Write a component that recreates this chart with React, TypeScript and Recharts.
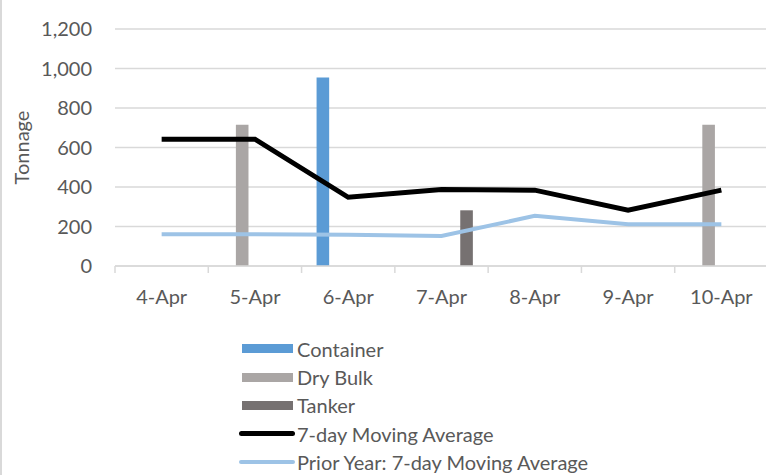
import React from "react";
import {
  ComposedChart,
  Bar,
  Line,
  XAxis,
  YAxis,
  CartesianGrid,
  Legend,
} from "recharts";

const days = ["4-Apr", "5-Apr", "6-Apr", "7-Apr", "8-Apr", "9-Apr", "10-Apr"];
const container = [null, null, 955, null, null, null, null];
const dryBulk = [null, 715, null, null, null, null, 715];
const tanker = [null, null, null, 282, null, null, null];
const movingAvg = [642, 642, 348, 387, 384, 282, 384];
const priorYearAvg = [161, 161, 158, 152, 254, 211, 211];
// two unused bar slots (no data, not in legend) that sit between Dry Bulk and Tanker
const emptySlot = [null, null, null, null, null, null, null];
const yTicks = [0, 200, 400, 600, 800, 1000, 1200];
const legendOrder = [
  "Container",
  "Dry Bulk",
  "Tanker",
  "7-day Moving Average",
  "Prior Year: 7-day Moving Average",
];

const data = days.map((day, i) => ({
  day,
  container: container[i],
  dryBulk: dryBulk[i],
  slotA: emptySlot[i],
  slotB: emptySlot[i],
  tanker: tanker[i],
  avg: movingAvg[i],
  prior: priorYearAvg[i],
}));

const TEXT = "#595959";
const GRID = "#d9d9d9";

function DayTick(props: any) {
  const { x, y, payload, index, visibleTicksCount } = props;
  const half = payload && payload.offset ? payload.offset : 46.6;
  const axisY = y - 8;
  const isLast = index === visibleTicksCount - 1;
  return (
    <g>
      <line x1={x - half} x2={x - half} y1={axisY} y2={axisY + 7} stroke={GRID} strokeWidth={1.5} />
      {isLast && (
        <line x1={x + half} x2={x + half} y1={axisY} y2={axisY + 7} stroke={GRID} strokeWidth={1.5} />
      )}
      <text x={x} y={axisY + 38} textAnchor="middle" fill={TEXT} fontSize={20}>
        {payload.value}
      </text>
    </g>
  );
}

function LegendList(props: any) {
  const items = (props.payload || [])
    .filter((item: any) => legendOrder.includes(item.value))
    .sort((a: any, b: any) => legendOrder.indexOf(a.value) - legendOrder.indexOf(b.value));
  return (
    <div>
      {items.map((item: any) => (
        <div
          key={item.value}
          style={{ display: "flex", alignItems: "center", height: 28.4 }}
        >
          {item.type === "line" ? (
            <div
              style={{
                width: 56,
                height: item.value.startsWith("Prior") ? 4 : 5,
                borderRadius: 3,
                background: item.color,
              }}
            />
          ) : (
            <div style={{ width: 51, height: 9, marginLeft: 3, marginRight: 2, background: item.color }} />
          )}
          <span style={{ marginLeft: 2, color: TEXT, fontSize: 20, whiteSpace: "nowrap" }}>
            {item.value}
          </span>
        </div>
      ))}
    </div>
  );
}

export default function App() {
  return (
    <div
      style={{
        position: "absolute",
        left: 0,
        top: 0,
        width: 766,
        height: 475,
        overflow: "hidden",
        background: "#fff",
        boxShadow: `inset 2px 0 0 ${GRID}`,
        fontFamily: "Lato, sans-serif",
      }}
    >
      <ComposedChart
        width={770}
        height={475}
        data={data}
        margin={{ top: 29, right: 2, left: 0, bottom: 179 }}
        barGap={0}
        barSize={12.6}
      >
        <CartesianGrid vertical={false} stroke={GRID} strokeWidth={1.5} />
        <XAxis
          dataKey="day"
          height={30}
          axisLine={{ stroke: GRID, strokeWidth: 1.5 }}
          tickLine={false}
          tick={<DayTick />}
          interval={0}
        />
        <YAxis
          width={115}
          domain={[0, 1200]}
          ticks={yTicks}
          axisLine={false}
          tickLine={false}
          tickMargin={17}
          tick={{ fill: TEXT, fontSize: 20 }}
          tickFormatter={(v: number) => v.toLocaleString("en-US")}
          label={{
            value: "Tonnage",
            angle: -90,
            position: "center",
            dx: -36,
            fill: TEXT,
            fontSize: 20,
          }}
        />
        <Bar dataKey="container" name="Container" fill="#5b9bd5" isAnimationActive={false} />
        <Bar dataKey="dryBulk" name="Dry Bulk" fill="#aaa6a5" isAnimationActive={false} />
        <Bar dataKey="slotA" name="slotA" fill="#ffffff" legendType="none" isAnimationActive={false} />
        <Bar dataKey="slotB" name="slotB" fill="#ffffff" legendType="none" isAnimationActive={false} />
        <Bar dataKey="tanker" name="Tanker" fill="#767171" isAnimationActive={false} />
        <Line
          dataKey="avg"
          name="7-day Moving Average"
          type="linear"
          stroke="#000000"
          strokeWidth={5}
          dot={false}
          legendType="line"
          isAnimationActive={false}
        />
        <Line
          dataKey="prior"
          name="Prior Year: 7-day Moving Average"
          type="linear"
          stroke="#9dc3e6"
          strokeWidth={4}
          dot={false}
          legendType="line"
          isAnimationActive={false}
        />
        <Legend
          layout="vertical"
          align="center"
          verticalAlign="middle"
          content={<LegendList />}
          wrapperStyle={{ left: 239, top: 334.5, width: "auto", right: "auto", bottom: "auto" }}
        />
      </ComposedChart>
    </div>
  );
}
